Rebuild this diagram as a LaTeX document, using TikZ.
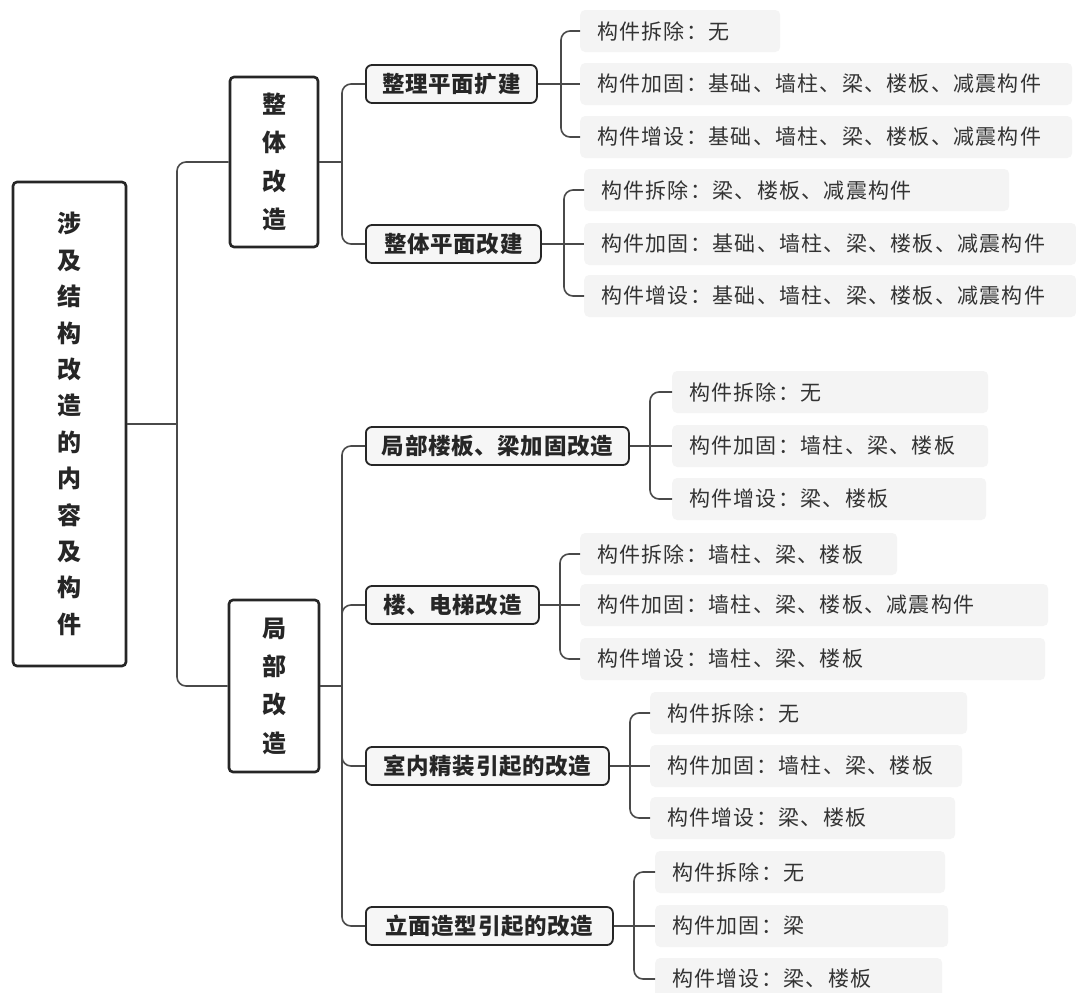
\documentclass[tikz,border=0pt]{standalone}
\usepackage{fontspec}
\setmainfont{Noto Sans CJK SC}
\newfontfamily\leaffont{Noto Sans CJK SC}[LetterSpace=6]
\newfontfamily\branchfont{Noto Sans CJK SC}[LetterSpace=3]
\definecolor{leafbg}{HTML}{F4F4F4}
\definecolor{linec}{HTML}{4A4A4A}
\definecolor{txt}{HTML}{333333}
\definecolor{boxbg}{HTML}{F6F6F6}
\definecolor{edge}{HTML}{262626}
\tikzset{
  conn/.style={draw=linec, line width=1.6pt},
  rconn/.style={conn, rounded corners=9pt},
  topbox/.style={draw=edge, line width=2.6pt, fill=white, rounded corners=4pt, inner sep=0pt,
    align=center, text=edge, font=\fontsize{24}{#1}\selectfont\bfseries},
  branch/.style={draw=edge, line width=1.8pt, fill=boxbg, rounded corners=6pt, inner xsep=0pt,
    inner ysep=0pt, minimum height=38pt, anchor=west, text=edge, font=\branchfont\fontsize{22.5}{26}\selectfont\bfseries},
  leaf/.style={fill=leafbg, rounded corners=5pt, inner xsep=17pt, inner ysep=0pt, minimum height=42pt,
    anchor=west, align=left, text=txt, font=\leaffont\fontsize{21}{24}\selectfont},
}
\begin{document}
\begin{tikzpicture}[x=1pt, y=-1pt]
\useasboundingbox[fill=white] (0,0) rectangle (1076,993);

% root and level 1
\node[topbox=36.4, minimum width=113pt, minimum height=484pt] (root) at (69.5,424)
  {涉\\及\\结\\构\\改\\造\\的\\内\\容\\及\\构\\件};
\node[topbox=38.3, minimum width=88pt, minimum height=170pt] (whole) at (274,162)
  {整\\体\\改\\造};
\node[topbox=38.3, minimum width=90pt, minimum height=172pt] (local) at (274,686)
  {局\\部\\改\\造};

% level 2
\node[branch, minimum width=171pt] (b1) at (365,84) {整理平面扩建};
\node[branch, minimum width=175pt] (b2) at (365,244) {整体平面改建};
\node[branch, minimum width=263pt] (b3) at (365,446) {局部楼板、梁加固改造};
\node[branch, minimum width=173pt] (b4) at (365,605) {楼、电梯改造};
\node[branch, minimum width=243pt] (b5) at (365,766) {室内精装引起的改造};
\node[branch, minimum width=247pt] (b6) at (365,926) {立面造型引起的改造};

% leaves group 1
\node[leaf, text width=166pt] (l11) at (580,31) {构件拆除：无};
\node[leaf, text width=458pt] (l12) at (580,84) {构件加固：基础、墙柱、梁、楼板、减震构件};
\node[leaf, text width=458pt] (l13) at (580,137) {构件增设：基础、墙柱、梁、楼板、减震构件};
% group 2
\node[leaf, text width=391pt] (l21) at (584,190) {构件拆除：梁、楼板、减震构件};
\node[leaf, text width=458pt] (l22) at (584,244) {构件加固：基础、墙柱、梁、楼板、减震构件};
\node[leaf, text width=458pt] (l23) at (584,296) {构件增设：基础、墙柱、梁、楼板、减震构件};
% group 3
\node[leaf, text width=282pt] (l31) at (672,392) {构件拆除：无};
\node[leaf, text width=282pt] (l32) at (672,446) {构件加固：墙柱、梁、楼板};
\node[leaf, text width=280pt] (l33) at (672,499) {构件增设：梁、楼板};
% group 4
\node[leaf, text width=283pt] (l41) at (580,554) {构件拆除：墙柱、梁、楼板};
\node[leaf, text width=434pt] (l42) at (580,605) {构件加固：墙柱、梁、楼板、减震构件};
\node[leaf, text width=431pt] (l43) at (580,659) {构件增设：墙柱、梁、楼板};
% group 5
\node[leaf, text width=283pt] (l51) at (650,713) {构件拆除：无};
\node[leaf, text width=278pt] (l52) at (650,766) {构件加固：墙柱、梁、楼板};
\node[leaf, text width=271pt] (l53) at (650,818) {构件增设：梁、楼板};
% group 6
\node[leaf, text width=256pt] (l61) at (655,872) {构件拆除：无};
\node[leaf, text width=259pt] (l62) at (655,926) {构件加固：梁};
\node[leaf, text width=253pt] (l63) at (655,979) {构件增设：梁、楼板};

% junctions
\coordinate (j0) at (177,424);
\coordinate (jw) at (342,162);
\coordinate (jl) at (342,686);
\coordinate (j1) at (561,84);
\coordinate (j2) at (564,244);
\coordinate (j3) at (650,446);
\coordinate (j4) at (560,605);
\coordinate (j5) at (630,766);
\coordinate (j6) at (634,926);

% connectors
\draw[conn] (root.east) -- (j0);
\draw[rconn] (j0) |- (whole.west);
\draw[rconn] (j0) |- (local.west);

\draw[conn] (whole.east) -- (jw);
\draw[rconn] (jw) |- (b1.west);
\draw[rconn] (jw) |- (b2.west);

\draw[conn] (local.east) -- (jl);
\draw[rconn] (jl) |- (b3.west);
\draw[rconn] (jl) |- (b4.west);
\draw[rconn] (jl) |- (b5.west);
\draw[rconn] (jl) |- (b6.west);

\draw[conn] (b1.east) -- (j1);
\draw[rconn] (j1) |- (l11.west);
\draw[conn] (j1) -- (l12.west);
\draw[rconn] (j1) |- (l13.west);

\draw[conn] (b2.east) -- (j2);
\draw[rconn] (j2) |- (l21.west);
\draw[conn] (j2) -- (l22.west);
\draw[rconn] (j2) |- (l23.west);

\draw[conn] (b3.east) -- (j3);
\draw[rconn] (j3) |- (l31.west);
\draw[conn] (j3) -- (l32.west);
\draw[rconn] (j3) |- (l33.west);

\draw[conn] (b4.east) -- (j4);
\draw[rconn] (j4) |- (l41.west);
\draw[conn] (j4) -- (l42.west);
\draw[rconn] (j4) |- (l43.west);

\draw[conn] (b5.east) -- (j5);
\draw[rconn] (j5) |- (l51.west);
\draw[conn] (j5) -- (l52.west);
\draw[rconn] (j5) |- (l53.west);

\draw[conn] (b6.east) -- (j6);
\draw[rconn] (j6) |- (l61.west);
\draw[conn] (j6) -- (l62.west);
\draw[rconn] (j6) |- (l63.west);
\end{tikzpicture}
\end{document}
